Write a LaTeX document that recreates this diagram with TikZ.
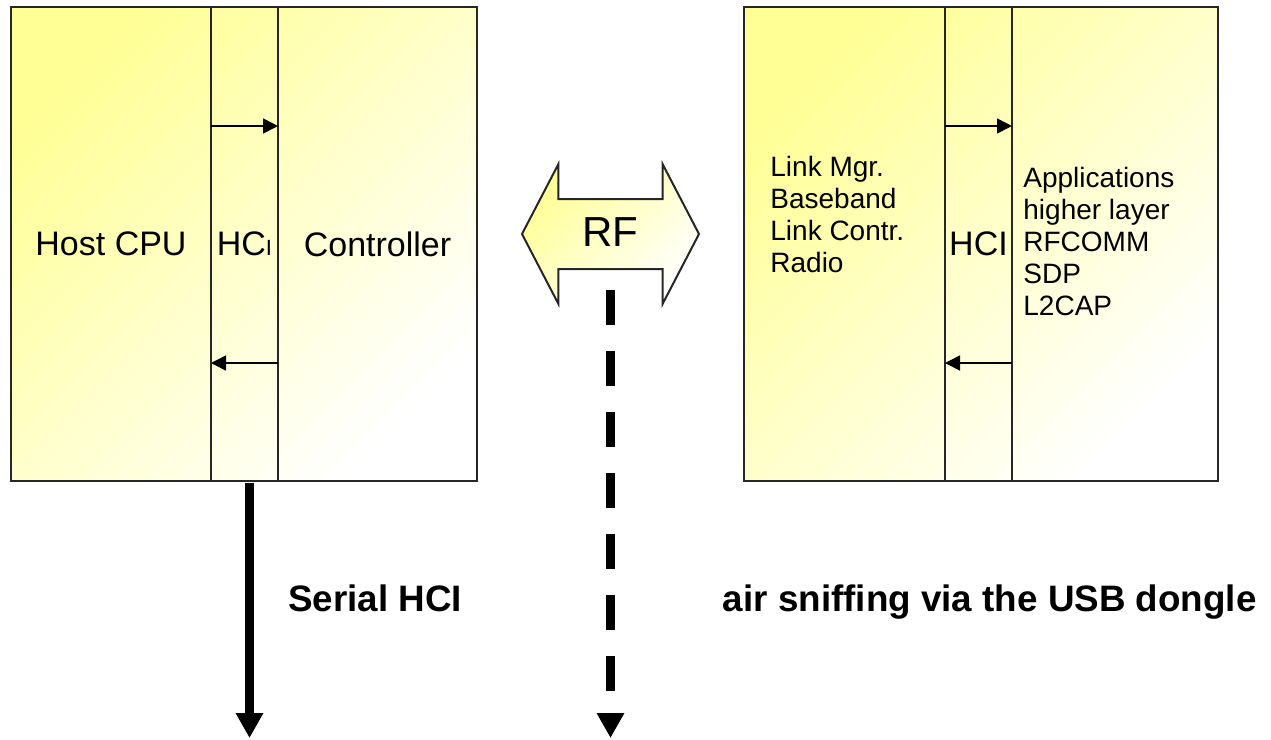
\documentclass[tikz,border=0pt]{standalone}
\usepackage{fontspec}
\setmainfont{Liberation Sans}
\usetikzlibrary{positioning,arrows.meta,shapes.arrows,backgrounds}

\definecolor{padyellow}{RGB}{255,255,150}

\tikzset{
  column/.style={draw=black!85, line width=1pt, minimum height=237pt,
    inner sep=0pt, outer sep=0pt, font=\fontsize{17}{20}\selectfont},
  padshade/.style={top color=padyellow, bottom color=white, shading angle=45},
  stacktext/.style={anchor=base west, inner sep=0pt, font=\fontsize{14}{16}\selectfont},
  hciarrow/.style={line width=0.8pt, -{Triangle[length=7.5pt,width=7.5pt]}},
  bigarrow/.style={line width=4.5pt, -{Triangle[length=12.5pt,width=13pt]}},
  sniffarrow/.style={bigarrow, dash pattern=on 17.5pt off 13pt},
  caption/.style={inner sep=0pt, font=\bfseries\fontsize{18.4}{22}\selectfont}
}

\begin{document}
\begin{tikzpicture}[x=0.5pt, y=-0.5pt]
    \useasboundingbox (0,0) rectangle (1271,740);

    % host side
    \node[column, minimum width=100pt] (host) at (111,244) {Host CPU};
    \node[column, minimum width=33.5pt, right=0pt of host] (hcia)
        {\raisebox{-3.5pt}{HC{\fontsize{11}{13}\selectfont I}}};
    \node[column, minimum width=99.5pt, right=0pt of hcia] (ctrl) {Controller};

    % remote side
    \node[column, minimum width=100.5pt] (lm) at (844.5,244) {};
    \node[column, minimum width=33.5pt, right=0pt of lm] (hcib) {HCI};
    \node[column, minimum width=103pt, right=0pt of hcib] (apps) {};

    \begin{scope}[on background layer]
        \shade[padshade] (host.north west) rectangle (ctrl.south east);
        \shade[padshade] (lm.north west) rectangle (apps.south east);
    \end{scope}

    \foreach \t [count=\i] in {Link Mgr.,Baseband,Link Contr.,Radio}
        \node[stacktext] (lm-\i) at (770,{144+32*\i}) {\t};
    \foreach \t [count=\i] in {Applications,higher layer,RFCOMM,SDP,L2CAP}
        \node[stacktext] (apps-\i) at (1023,{155+32*\i}) {\t};

    \foreach \c in {hcia,hcib} {
        \draw[hciarrow] (\c.west |- 0,126) -- (\c.east |- 0,126);
        \draw[hciarrow] (\c.east |- 0,363) -- (\c.west |- 0,363);
    }

    % radio link
    \node[draw=black!85, line width=1pt, padshade, shape=double arrow,
        double arrow head extend=17.5pt, double arrow tip angle=125,
        minimum height=88.5pt, minimum width=69pt, inner sep=0pt,
        text height=23pt, text depth=11pt,
        font=\fontsize{21}{24}\selectfont] (rf) at (610.5,234) {RF};

    \coordinate (serialend) at (249.5,738);
    \coordinate (sniffend) at (610.5,738);
    \draw[bigarrow] ([xshift=2.5pt,yshift=-1pt]hcia.south) -- (serialend);
    \draw[sniffarrow] ([yshift=-28pt]rf.center) -- (sniffend);

    \node[caption, anchor=base west] (serial) at (288,611) {Serial HCI};
    \node[caption, anchor=base east] (sniff) at (1257,611) {air sniffing via the USB dongle};
\end{tikzpicture}
\end{document}
